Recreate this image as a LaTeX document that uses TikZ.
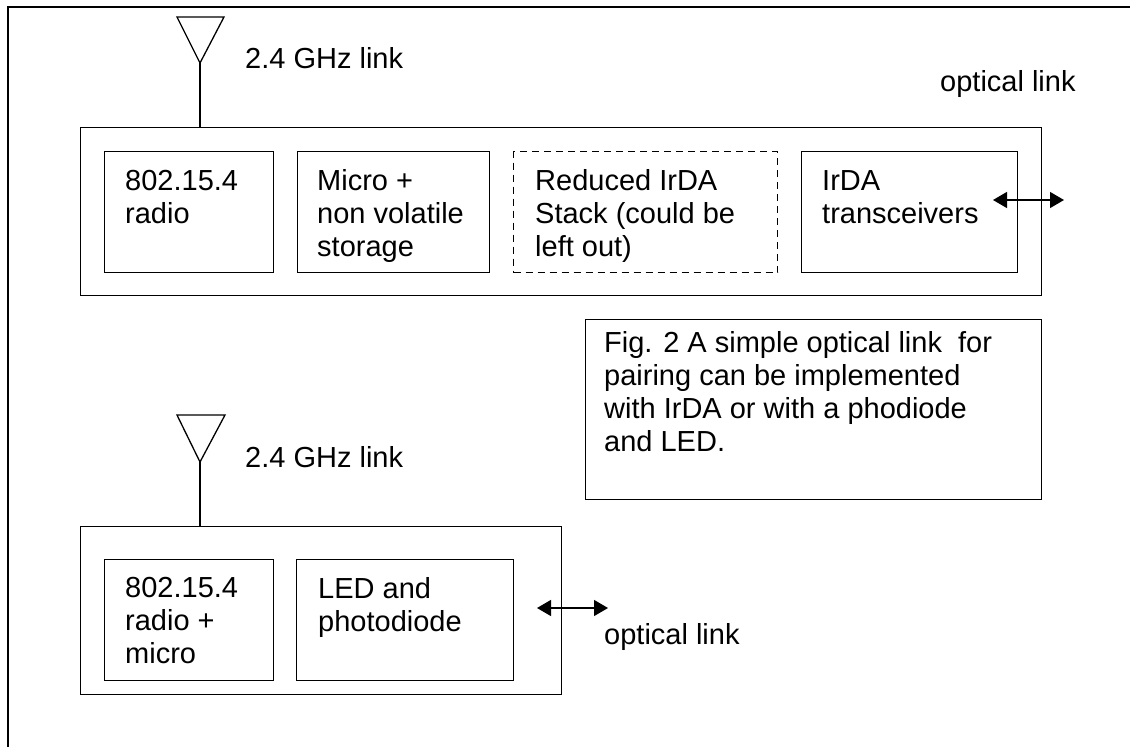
\documentclass[tikz,border=0pt]{standalone}
\usepackage{fontspec}
\setmainfont{Liberation Sans}
\usetikzlibrary{arrows.meta}
\begin{document}
\begin{tikzpicture}[x=1pt,y=-1pt,
  box/.style={draw, line width=1.3pt, rectangle, inner sep=0pt, anchor=north west},
  dbox/.style={box, dash pattern=on 7pt off 5pt},
  txt/.style={anchor=base west, align=left, inner sep=0pt, font=\fontsize{29}{33}\selectfont},
  wire/.style={line width=1.3pt},
  link/.style={{Triangle[length=14pt,width=16pt]}-{Triangle[length=14pt,width=16pt]}, line width=1.3pt}]
\useasboundingbox (0,0) rectangle (1130,747);
% outer frame
\draw[line width=1.1pt] (8,747) -- (8,7) -- (1130,7);

% ---- top device ----
\node[box, minimum width=961pt, minimum height=168pt] (top) at (80,127) {};
\node[box, minimum width=169pt, minimum height=121pt] (b1) at (104,151) {};
\node[box, minimum width=192pt, minimum height=121pt] (b2) at (297,151) {};
\node[dbox, minimum width=264pt, minimum height=121pt] (b3) at (513,151) {};
\node[box, minimum width=216pt, minimum height=121pt] (b4) at (801,151) {};
% (base anchor of a multi-line node = baseline of its last line)
\node[txt] (t1) at (125,223) {802.15.4\\radio};
\node[txt] (t2) at (317,256) {Micro +\\non volatile\\storage};
\node[txt] (t3) at (535,256) {Reduced IrDA\\Stack (could be\\left out)};
\node[txt] (t4) at (822,223) {IrDA\\transceivers};

% antenna 1
\draw[wire] (177,17) -- (224,17) -- (200,63) -- cycle;
\coordinate (a1) at (200,63);
\draw[wire] (a1) -- (a1 |- top.north);
\node[txt] (g1) at (245,68) {2.4 GHz link};

% optical link top
\coordinate (o1a) at (993,200);
\coordinate (o1b) at (1064,200);
\draw[link] (o1a) -- (o1b);
\node[txt] (ol1) at (940,91) {optical link};

% ---- caption box ----
\node[box, minimum width=456pt, minimum height=180pt] (fig) at (585,319) {};
\node[txt] (ft) at (604,451) {Fig. 2 A simple optical link\ \ for\\pairing can be implemented\\with IrDA or with a phodiode\\and LED.};

% ---- bottom device ----
\node[box, minimum width=481pt, minimum height=168pt] (bot) at (80,526) {};
\node[box, minimum width=169pt, minimum height=121pt] (b5) at (104,559) {};
\node[box, minimum width=217pt, minimum height=121pt] (b6) at (296,559) {};
\node[txt] (t5) at (125,663) {802.15.4\\radio +\\micro};
\node[txt] (t6) at (318,631) {LED and\\photodiode};

% antenna 2
\draw[wire] (177,415) -- (225,415) -- (200,462) -- cycle;
\coordinate (a2) at (200,462);
\draw[wire] (a2) -- (a2 |- bot.north);
\node[txt] (g2) at (245,467) {2.4 GHz link};

% optical link bottom
\coordinate (o2a) at (537,608);
\coordinate (o2b) at (608,608);
\draw[link] (o2a) -- (o2b);
\node[txt] (ol2) at (604,644) {optical link};
\end{tikzpicture}
\end{document}
